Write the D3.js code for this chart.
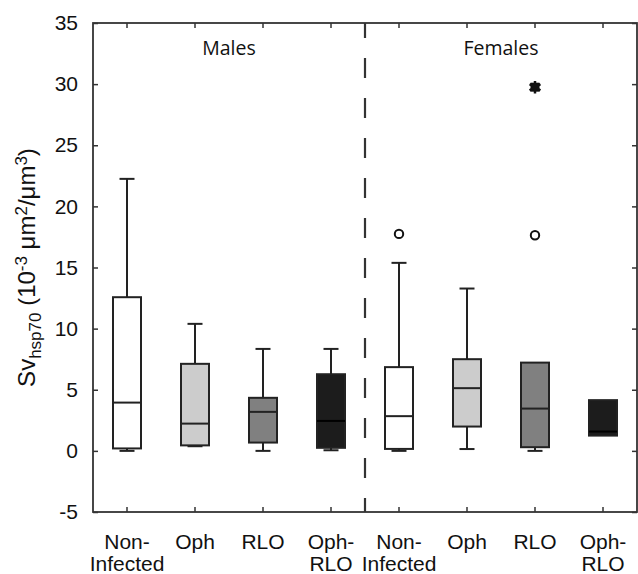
<!DOCTYPE html>
<html>
<head>
<meta charset="utf-8">
<script src="https://cdn.jsdelivr.net/npm/d3@7"></script>
<style>
  body { margin: 0; background: #fff; }
  .axis path { display: none; }
  .axis line { stroke: #333; stroke-width: 1.5; }
  .axis text { font-family: "Liberation Sans", Arial, sans-serif; font-size: 21px; fill: #111; }
  .frame { fill: none; stroke: #333; stroke-width: 1.8; }
  .box { stroke: #222; stroke-width: 2; }
  .whisker { stroke: #222; stroke-width: 2; }
  .group-title { font-family: "Open Sans", sans-serif; font-size: 19.5px; fill: #111; }
  .xlabel { font-family: "Liberation Sans", Arial, sans-serif; font-size: 21px; fill: #111; }
</style>
</head>
<body>
<script>
//chart data
var categories = [["Non-", "Infected"], ["Oph"], ["RLO"], ["Oph-", "RLO"],
                  ["Non-", "Infected"], ["Oph"], ["RLO"], ["Oph-", "RLO"]];
var groupNames = ["Males", "Females"];
var boxFills = ["#ffffff", "#cccccc", "#808080", "#1c1c1c",
                "#ffffff", "#cccccc", "#808080", "#1c1c1c"];
var whiskerLow  = [0,     0.38,  0,    0.05, 0,     0.15,  0,    1.31];
var q1Values    = [0.2,   0.45,  0.68, 0.25, 0.16,  1.99,  0.3,  1.25];
var medians     = [3.95,  2.23,  3.19, 2.45, 2.84,  5.13,  3.46, 1.58];
var q3Values    = [12.57, 7.12,  4.34, 6.27, 6.85,  7.5,   7.22, 4.15];
var whiskerHigh = [22.25, 10.39, 8.34, 8.34, 15.38, 13.28, 7.22, 4.15];
//outliers: [category index, value, kind]
var outliers = [[4, 17.75, "circle"], [6, 17.64, "circle"], [6, 29.75, "star"]];
var yTicks = [-5, 0, 5, 10, 15, 20, 25, 30, 35];

(function(){
    var width = 638, height = 574;
    var left = 93, right = 637, top = 23, bottom = 512;

    var svg = d3.select("body")
        .append("svg")
        .attr("width", width)
        .attr("height", height);

    var x = d3.scaleBand()
        .domain(d3.range(categories.length))
        .range([left, right]);
    var y = d3.scaleLinear()
        .domain([-5, 35])
        .range([bottom, top]);

    function cx(i){ return x(i) + x.bandwidth() / 2; }

    //axes with inward ticks
    svg.append("g")
        .attr("class", "axis")
        .attr("transform", "translate(" + left + ",0)")
        .call(d3.axisLeft(y).tickValues(yTicks).tickSizeInner(-5).tickSizeOuter(0).tickPadding(15)
            .tickFormat(function(d){ return String(d); }));
    svg.append("g")
        .attr("class", "axis")
        .attr("transform", "translate(" + right + ",0)")
        .call(d3.axisRight(y).tickValues(yTicks).tickSizeInner(-5).tickSizeOuter(0).tickFormat(""));
    svg.append("g")
        .attr("class", "axis")
        .attr("transform", "translate(0," + bottom + ")")
        .call(d3.axisBottom(x).tickSizeInner(-5).tickSizeOuter(0).tickFormat(""));
    svg.append("g")
        .attr("class", "axis")
        .attr("transform", "translate(0," + top + ")")
        .call(d3.axisTop(x).tickSizeInner(-5).tickSizeOuter(0).tickFormat(""));

    //plot frame
    svg.append("rect")
        .attr("class", "frame")
        .attr("x", left).attr("y", top)
        .attr("width", right - left).attr("height", bottom - top);

    //divider between males and females
    var mid = x(4);
    svg.append("line")
        .attr("x1", mid).attr("x2", mid)
        .attr("y1", top).attr("y2", bottom)
        .attr("stroke", "#333")
        .attr("stroke-width", 2.2)
        .attr("stroke-dasharray", "20,20")
        .attr("stroke-dashoffset", 5);

    //group titles
    svg.selectAll(".group-title")
        .data(groupNames)
        .enter()
        .append("text")
        .attr("class", "group-title")
        .attr("text-anchor", "middle")
        .attr("x", function(d, i){ return (cx(i * 4) + cx(i * 4 + 3)) / 2; })
        .attr("y", 55)
        .text(function(d){ return d; });

    var boxW = 28, capW = 15;
    var idx = d3.range(categories.length);

    //whiskers
    var wg = svg.append("g");
    idx.forEach(function(i){
        var c = cx(i);
        [[whiskerHigh[i], q3Values[i]], [whiskerLow[i], q1Values[i]]].forEach(function(p){
            if (Math.abs(p[0] - p[1]) < 0.01) return;
            wg.append("line").attr("class", "whisker")
                .attr("x1", c).attr("x2", c)
                .attr("y1", y(p[0])).attr("y2", y(p[1]));
            wg.append("line").attr("class", "whisker")
                .attr("x1", c - capW / 2).attr("x2", c + capW / 2)
                .attr("y1", y(p[0])).attr("y2", y(p[0]));
        });
    });

    //boxes
    svg.selectAll(".box")
        .data(idx)
        .enter()
        .append("rect")
        .attr("class", "box")
        .attr("x", function(i){ return cx(i) - boxW / 2; })
        .attr("width", boxW)
        .attr("y", function(i){ return y(q3Values[i]); })
        .attr("height", function(i){ return y(q1Values[i]) - y(q3Values[i]); })
        .style("fill", function(i){ return boxFills[i]; });

    //medians
    svg.selectAll(".median")
        .data(idx)
        .enter()
        .append("line")
        .attr("class", "median")
        .attr("x1", function(i){ return cx(i) - boxW / 2; })
        .attr("x2", function(i){ return cx(i) + boxW / 2; })
        .attr("y1", function(i){ return y(medians[i]); })
        .attr("y2", function(i){ return y(medians[i]); })
        .attr("stroke", function(i){ return i % 4 == 3 ? "#000" : "#222"; })
        .attr("stroke-width", 2);

    //outliers
    outliers.forEach(function(o){
        var g = svg.append("g")
            .attr("transform", "translate(" + cx(o[0]) + "," + y(o[1]) + ")");
        if (o[2] == "circle") {
            g.append("circle").attr("r", 4.2)
                .attr("fill", "#fff").attr("stroke", "#111").attr("stroke-width", 2);
        } else {
            g.append("rect").attr("x", -4.5).attr("y", -4.5).attr("width", 9).attr("height", 9)
                .attr("fill", "#111");
            g.append("path").attr("d", d3.symbol(d3.symbolAsterisk, 110)())
                .attr("stroke", "#111").attr("stroke-width", 2.5).attr("fill", "none");
        }
    });

    //category labels
    var xl = svg.selectAll(".xlabel")
        .data(categories)
        .enter()
        .append("text")
        .attr("class", "xlabel")
        .attr("text-anchor", "middle")
        .attr("x", function(d, i){ return cx(i); })
        .attr("y", 549);
    xl.selectAll("tspan")
        .data(function(d){ return d; })
        .enter()
        .append("tspan")
        .attr("x", function(){ return d3.select(this.parentNode).attr("x"); })
        .attr("dy", function(d, j){ return j == 0 ? 0 : 21.5; })
        .text(function(d){ return d; });

    //y axis title with sub/superscripts
    var yt = svg.append("text")
        .attr("transform", "translate(35," + ((top + bottom) / 2) + ") rotate(-90)")
        .attr("text-anchor", "middle")
        .style("font-family", "Liberation Sans, Arial, sans-serif")
        .style("font-size", "24px")
        .style("fill", "#111");
    var parts = [["Sv", 0, 24], ["hsp70", 6, 17], [" (10", -6, 24], ["-3", -8, 17], [" \u03bcm", 8, 24],
                 ["2", -8, 17], ["/\u03bcm", 8, 24], ["3", -8, 17], [")", 8, 24]];
    parts.forEach(function(p){
        yt.append("tspan").attr("dy", p[1]).style("font-size", p[2] + "px").text(p[0]);
    });
})();
</script>
</body>
</html>
